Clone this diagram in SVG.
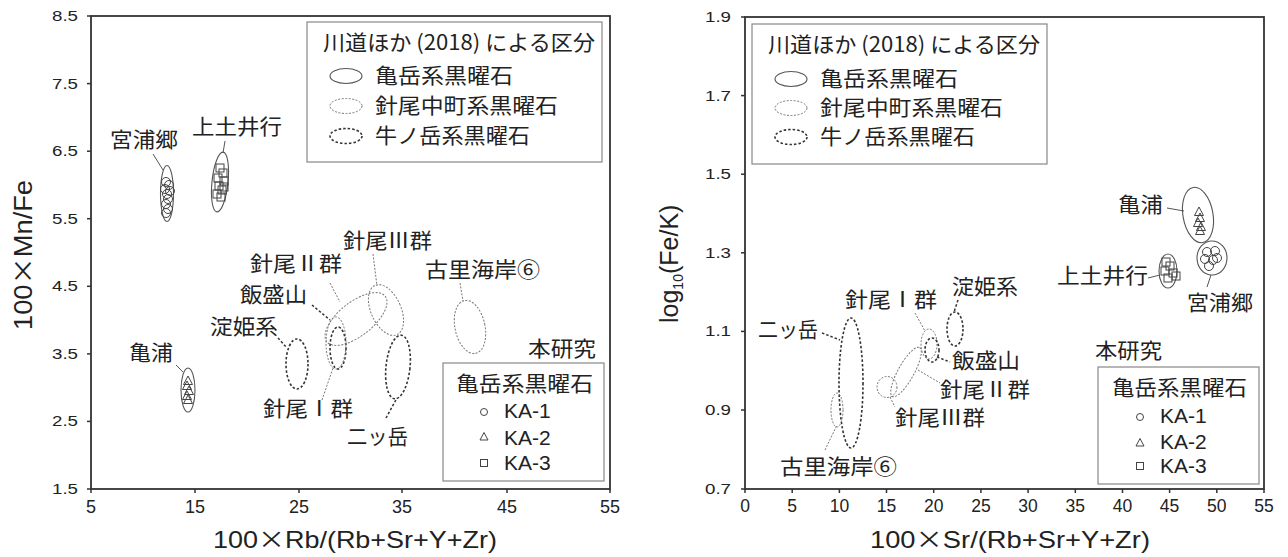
<svg xmlns="http://www.w3.org/2000/svg" width="1288" height="557" viewBox="0 0 1288 557">
<style>
.ax{fill:none;stroke:#333;stroke-width:1.8}
.tk{stroke:#333;stroke-width:1.5}
.lg{fill:#fff;stroke:#888;stroke-width:1.2}
.ka{fill:none;stroke:#555;stroke-width:1.1}
.hn{fill:none;stroke:#777;stroke-width:1;stroke-dasharray:2 1.5}
.us{fill:none;stroke:#333;stroke-width:1.6;stroke-dasharray:2.5 2}
.ld{stroke:#555;stroke-width:1;fill:none}
.ldh{stroke:#777;stroke-width:1;stroke-dasharray:2 1.5;fill:none}
.ldu{stroke:#333;stroke-width:1.5;stroke-dasharray:2.5 2;fill:none}
.pt{fill:none;stroke:#444;stroke-width:1}
.j{font-family:"Noto Sans CJK JP","Noto Sans CJK SC",sans-serif;fill:#222;font-size:21px}
.n{font-family:"Liberation Sans",Arial,sans-serif;fill:#222}
.yt{font-size:14px;text-anchor:end}
.xt{font-size:18px;text-anchor:middle}
.cx{font-family:"Noto Sans CJK JP",sans-serif}
</style>
<defs>
<circle id="c" r="4.5" class="pt"/>
<path id="t" d="M0,-5 L4.5,3.5 L-4.5,3.5 Z" class="pt"/>
<rect id="s" x="-4" y="-4" width="8" height="8" class="pt"/>
</defs>
<rect width="1288" height="557" fill="#fff"/>

<!-- LEFT PLOT -->
<g id="L-axes">
<rect class="ax" x="91" y="16" width="519" height="473"/>
<g class="tk">
<line x1="87" y1="16" x2="91" y2="16"/><line x1="87" y1="83.6" x2="91" y2="83.6"/><line x1="87" y1="151.2" x2="91" y2="151.2"/><line x1="87" y1="218.7" x2="91" y2="218.7"/><line x1="87" y1="286.3" x2="91" y2="286.3"/><line x1="87" y1="353.9" x2="91" y2="353.9"/><line x1="87" y1="421.4" x2="91" y2="421.4"/><line x1="87" y1="489" x2="91" y2="489"/>
<line x1="91" y1="489" x2="91" y2="493"/><line x1="195" y1="489" x2="195" y2="493"/><line x1="299" y1="489" x2="299" y2="493"/><line x1="402" y1="489" x2="402" y2="493"/><line x1="507" y1="489" x2="507" y2="493"/><line x1="610" y1="489" x2="610" y2="493"/>
</g>
<g class="n yt">
<text x="78" y="21" textLength="26" lengthAdjust="spacingAndGlyphs">8.5</text>
<text x="78" y="88.6" textLength="26" lengthAdjust="spacingAndGlyphs">7.5</text>
<text x="78" y="156.2" textLength="26" lengthAdjust="spacingAndGlyphs">6.5</text>
<text x="78" y="223.7" textLength="26" lengthAdjust="spacingAndGlyphs">5.5</text>
<text x="78" y="291.3" textLength="26" lengthAdjust="spacingAndGlyphs">4.5</text>
<text x="78" y="358.9" textLength="26" lengthAdjust="spacingAndGlyphs">3.5</text>
<text x="78" y="426.4" textLength="26" lengthAdjust="spacingAndGlyphs">2.5</text>
<text x="78" y="494" textLength="26" lengthAdjust="spacingAndGlyphs">1.5</text>
</g>
<g class="n xt">
<text x="91" y="513">5</text><text x="195" y="513">15</text><text x="299" y="513">25</text><text x="402" y="513">35</text><text x="507" y="513">45</text><text x="610" y="513">55</text>
</g>
<text class="n" x="213" y="548" font-size="24" textLength="284" lengthAdjust="spacingAndGlyphs">100<tspan class="cx">×</tspan>Rb/(Rb+Sr+Y+Zr)</text>
<text class="n" transform="translate(32,255) rotate(-90)" x="-75" y="0" font-size="25" textLength="150" lengthAdjust="spacingAndGlyphs">100<tspan class="cx">×</tspan>Mn/Fe</text>
</g>

<g id="L-legend">
<rect class="lg" x="307" y="22" width="295" height="140"/>
<text class="j" x="323" y="50" font-size="19" textLength="272" lengthAdjust="spacingAndGlyphs">川道ほか (2018) による区分</text>
<ellipse class="ka" cx="346" cy="76" rx="16" ry="7.5"/>
<text class="j" x="375" y="83" textLength="138" lengthAdjust="spacingAndGlyphs">亀岳系黒曜石</text>
<ellipse class="hn" cx="346" cy="106" rx="16" ry="7.5"/>
<text class="j" x="375" y="113" textLength="183" lengthAdjust="spacingAndGlyphs">針尾中町系黒曜石</text>
<ellipse class="us" cx="346" cy="136" rx="16" ry="7.5" stroke-width="1.2"/>
<text class="j" x="375" y="143" textLength="155" lengthAdjust="spacingAndGlyphs">牛ノ岳系黒曜石</text>
</g>

<g id="L-samplelegend">
<text class="j" x="528" y="356" textLength="68" lengthAdjust="spacingAndGlyphs">本研究</text>
<rect class="lg" x="443" y="363" width="161" height="118"/>
<text class="j" x="456" y="391" textLength="137" lengthAdjust="spacingAndGlyphs">亀岳系黒曜石</text>
<circle class="pt" cx="484" cy="412" r="3.5"/>
<text class="n" x="504" y="418" font-size="21">KA-1</text>
<path class="pt" d="M484,432.5 L488,440 L480,440 Z"/>
<text class="n" x="504" y="445" font-size="21">KA-2</text>
<rect class="pt" x="480.5" y="459.5" width="7" height="7"/>
<text class="n" x="504" y="470" font-size="21">KA-3</text>
</g>

<g id="L-leaders">
<line class="ld" x1="153" y1="154" x2="163" y2="170"/>
<line class="ld" x1="225" y1="141" x2="223" y2="153"/>
<line class="ld" x1="176" y1="365" x2="183" y2="372"/>
<line class="ldu" x1="278" y1="338" x2="287" y2="348"/>
<line class="ldu" x1="312" y1="305" x2="330" y2="320"/>
<line class="ldh" x1="330" y1="283" x2="340" y2="302"/>
<line class="ldh" x1="373" y1="254" x2="377" y2="286"/>
<line class="ldh" x1="322" y1="400" x2="333" y2="368"/>
<line class="ldu" x1="386" y1="418" x2="397" y2="398"/>
<line class="ldh" x1="460" y1="283" x2="463" y2="301"/>
</g>

<g id="L-miyaura">
<text class="j" x="110" y="146.5" font-size="22" textLength="68" lengthAdjust="spacingAndGlyphs">宮浦郷</text>
<ellipse class="ka" cx="167" cy="193.5" rx="6.5" ry="28"/>
<use href="#c" x="166" y="182"/><use href="#c" x="169" y="185"/><use href="#c" x="165" y="189"/><use href="#c" x="170" y="191"/><use href="#c" x="167" y="194"/><use href="#c" x="168" y="199"/><use href="#c" x="166" y="204"/><use href="#c" x="168" y="209"/><use href="#c" x="166" y="213"/>
</g>
<g id="L-kamidoi">
<text class="j" x="192" y="133.5" font-size="22" textLength="90" lengthAdjust="spacingAndGlyphs">上土井行</text>
<ellipse class="ka" cx="220" cy="182" rx="8" ry="30" transform="rotate(6 220 182)"/>
<use href="#s" x="220" y="168"/><use href="#s" x="223" y="173"/><use href="#s" x="218" y="178"/><use href="#s" x="224" y="181"/><use href="#s" x="219" y="186"/><use href="#s" x="222" y="190"/><use href="#s" x="217" y="194"/><use href="#s" x="221" y="197"/><use href="#s" x="224" y="187"/>
</g>
<g id="L-kameura">
<text class="j" x="129" y="360" font-size="22" textLength="44" lengthAdjust="spacingAndGlyphs">亀浦</text>
<ellipse class="ka" cx="188" cy="390" rx="7" ry="22"/>
<use href="#t" x="188" y="381"/><use href="#t" x="187" y="386"/><use href="#t" x="189" y="391"/><use href="#t" x="187" y="396"/><use href="#t" x="188" y="400"/>
</g>
<g id="L-yodohime">
<text class="j" x="210" y="334" textLength="68" lengthAdjust="spacingAndGlyphs">淀姫系</text>
<ellipse class="us" cx="297" cy="364" rx="11" ry="25"/>
</g>
<g id="L-iimori">
<text class="j" x="240" y="302" textLength="67" lengthAdjust="spacingAndGlyphs">飯盛山</text>
<ellipse class="us" cx="338" cy="348" rx="8" ry="21"/>
</g>
<g id="L-hario1">
<text class="j" x="263" y="416" textLength="90" lengthAdjust="spacingAndGlyphs">針尾Ⅰ群</text>
<ellipse class="hn" cx="336" cy="343" rx="10" ry="26"/>
</g>
<g id="L-hario2">
<text class="j" x="250" y="271" textLength="92" lengthAdjust="spacingAndGlyphs">針尾Ⅱ群</text>
<ellipse class="hn" cx="356" cy="319" rx="37" ry="17" transform="rotate(-38 356 319)"/>
</g>
<g id="L-hario3">
<text class="j" x="343" y="248" textLength="89" lengthAdjust="spacingAndGlyphs">針尾Ⅲ群</text>
<ellipse class="hn" cx="386" cy="310" rx="15" ry="27" transform="rotate(-24 386 310)"/>
</g>
<g id="L-futatsu">
<text class="j" x="347" y="444" textLength="61" lengthAdjust="spacingAndGlyphs">二ッ岳</text>
<ellipse class="us" cx="398" cy="367" rx="12" ry="32" transform="rotate(6 398 367)"/>
</g>
<g id="L-furusato">
<text class="j" x="425" y="277" textLength="115" lengthAdjust="spacingAndGlyphs">古里海岸⑥</text>
<ellipse class="hn" cx="470" cy="327" rx="15" ry="27" transform="rotate(-12 470 327)"/>
</g>

<!-- RIGHT PLOT -->
<g id="R-axes">
<rect class="ax" x="745" y="17" width="519" height="472"/>
<g class="tk">
<line x1="741" y1="17" x2="745" y2="17"/><line x1="741" y1="95.6" x2="745" y2="95.6"/><line x1="741" y1="174.2" x2="745" y2="174.2"/><line x1="741" y1="252.8" x2="745" y2="252.8"/><line x1="741" y1="331.4" x2="745" y2="331.4"/><line x1="741" y1="410" x2="745" y2="410"/><line x1="741" y1="489" x2="745" y2="489"/>
<line x1="745" y1="489" x2="745" y2="493"/><line x1="792.2" y1="489" x2="792.2" y2="493"/><line x1="839.4" y1="489" x2="839.4" y2="493"/><line x1="886.5" y1="489" x2="886.5" y2="493"/><line x1="933.7" y1="489" x2="933.7" y2="493"/><line x1="980.9" y1="489" x2="980.9" y2="493"/><line x1="1028.1" y1="489" x2="1028.1" y2="493"/><line x1="1075.3" y1="489" x2="1075.3" y2="493"/><line x1="1122.5" y1="489" x2="1122.5" y2="493"/><line x1="1169.6" y1="489" x2="1169.6" y2="493"/><line x1="1216.8" y1="489" x2="1216.8" y2="493"/><line x1="1264" y1="489" x2="1264" y2="493"/>
</g>
<g class="n yt">
<text x="731" y="22" textLength="26" lengthAdjust="spacingAndGlyphs" font-size="14.5">1.9</text>
<text x="731" y="100.6" textLength="26" lengthAdjust="spacingAndGlyphs" font-size="14.5">1.7</text>
<text x="731" y="179.2" textLength="26" lengthAdjust="spacingAndGlyphs" font-size="14.5">1.5</text>
<text x="731" y="257.8" textLength="26" lengthAdjust="spacingAndGlyphs" font-size="14.5">1.3</text>
<text x="731" y="336.4" textLength="26" lengthAdjust="spacingAndGlyphs" font-size="14.5">1.1</text>
<text x="731" y="415" textLength="26" lengthAdjust="spacingAndGlyphs" font-size="14.5">0.9</text>
<text x="731" y="494" textLength="26" lengthAdjust="spacingAndGlyphs" font-size="14.5">0.7</text>
</g>
<g class="n xt">
<text x="745" y="512" font-size="17.5">0</text><text x="792.2" y="512" font-size="17.5">5</text><text x="839.4" y="512" font-size="17.5">10</text><text x="886.5" y="512" font-size="17.5">15</text><text x="933.7" y="512" font-size="17.5">20</text><text x="980.9" y="512" font-size="17.5">25</text><text x="1028.1" y="512" font-size="17.5">30</text><text x="1075.3" y="512" font-size="17.5">35</text><text x="1122.5" y="512" font-size="17.5">40</text><text x="1169.6" y="512" font-size="17.5">45</text><text x="1216.8" y="512" font-size="17.5">50</text><text x="1264" y="512" font-size="17.5">55</text>
</g>
<text class="n" x="870" y="548" font-size="24" textLength="280" lengthAdjust="spacingAndGlyphs">100<tspan class="cx">×</tspan>Sr/(Rb+Sr+Y+Zr)</text>
<text class="n" transform="translate(678,260) rotate(-90)" x="-63" y="0" font-size="25">log<tspan font-size="14" dy="5">10</tspan><tspan dy="-5">(Fe/K)</tspan></text>
</g>

<g id="R-legend" transform="translate(445,2)">
<rect class="lg" x="307" y="22" width="295" height="140"/>
<text class="j" x="323" y="50" font-size="19" textLength="272" lengthAdjust="spacingAndGlyphs">川道ほか (2018) による区分</text>
<ellipse class="ka" cx="346" cy="77" rx="16" ry="7.5"/>
<text class="j" x="375" y="84" textLength="138" lengthAdjust="spacingAndGlyphs">亀岳系黒曜石</text>
<ellipse class="hn" cx="346" cy="106" rx="16" ry="7.5"/>
<text class="j" x="375" y="113" textLength="183" lengthAdjust="spacingAndGlyphs">針尾中町系黒曜石</text>
<ellipse class="us" cx="346" cy="135" rx="16" ry="7.5" stroke-width="1.2"/>
<text class="j" x="375" y="142" textLength="155" lengthAdjust="spacingAndGlyphs">牛ノ岳系黒曜石</text>
</g>

<g id="R-samplelegend">
<text class="j" x="1095" y="358" textLength="67" lengthAdjust="spacingAndGlyphs">本研究</text>
<rect class="lg" x="1098" y="367" width="161" height="117"/>
<text class="j" x="1112" y="395" textLength="135" lengthAdjust="spacingAndGlyphs">亀岳系黒曜石</text>
<circle class="pt" cx="1140" cy="417" r="3.5"/>
<text class="n" x="1160" y="423" font-size="21">KA-1</text>
<path class="pt" d="M1140,438.5 L1144,446 L1136,446 Z"/>
<text class="n" x="1160" y="449" font-size="21">KA-2</text>
<rect class="pt" x="1136.5" y="462.5" width="7" height="7"/>
<text class="n" x="1160" y="473" font-size="21">KA-3</text>
</g>

<g id="R-leaders">
<line class="ld" x1="1167" y1="208" x2="1184" y2="211"/>
<line class="ld" x1="1148" y1="278" x2="1160" y2="275"/>
<line class="ld" x1="1207" y1="287" x2="1211" y2="275"/>
<line class="ldu" x1="958" y1="300" x2="954" y2="312"/>
<line class="ldh" x1="915" y1="313" x2="925" y2="331"/>
<line class="ldu" x1="937" y1="357" x2="950" y2="362"/>
<line class="ldh" x1="918" y1="370" x2="940" y2="383"/>
<line class="ldh" x1="890" y1="397" x2="895" y2="407"/>
<line class="ldu" x1="822" y1="333" x2="840" y2="340"/>
<line class="ldh" x1="825" y1="450" x2="837" y2="425"/>
</g>

<g id="R-kameura">
<text class="j" x="1118" y="212" textLength="45" lengthAdjust="spacingAndGlyphs">亀浦</text>
<ellipse class="ka" cx="1198" cy="215" rx="15" ry="28" transform="rotate(-10 1198 215)"/>
<use href="#t" x="1199" y="212"/><use href="#t" x="1200" y="218"/><use href="#t" x="1198" y="223"/><use href="#t" x="1201" y="227"/><use href="#t" x="1200" y="231"/>
</g>
<g id="R-miyaura">
<text class="j" x="1187" y="310" textLength="66" lengthAdjust="spacingAndGlyphs">宮浦郷</text>
<ellipse class="ka" cx="1212" cy="258" rx="15" ry="17"/>
<use href="#c" x="1207" y="252"/><use href="#c" x="1215" y="251"/><use href="#c" x="1205" y="259"/><use href="#c" x="1213" y="260"/><use href="#c" x="1209" y="266"/><use href="#c" x="1217" y="258"/>
</g>
<g id="R-kamidoi">
<text class="j" x="1057" y="283" textLength="91" lengthAdjust="spacingAndGlyphs">上土井行</text>
<ellipse class="ka" cx="1168" cy="271" rx="9" ry="17"/>
<use href="#s" x="1166" y="262"/><use href="#s" x="1170" y="266"/><use href="#s" x="1165" y="271"/><use href="#s" x="1173" y="273"/><use href="#s" x="1168" y="278"/><use href="#s" x="1176" y="276"/>
</g>
<g id="R-yodohime">
<text class="j" x="952" y="294" textLength="66" lengthAdjust="spacingAndGlyphs">淀姫系</text>
<ellipse class="us" cx="955" cy="329" rx="8" ry="17"/>
</g>
<g id="R-hario1">
<text class="j" x="845" y="307" textLength="92" lengthAdjust="spacingAndGlyphs">針尾Ⅰ群</text>
<ellipse class="hn" cx="929" cy="344" rx="8" ry="15"/>
</g>
<g id="R-iimori">
<text class="j" x="952" y="368" textLength="68" lengthAdjust="spacingAndGlyphs">飯盛山</text>
<ellipse class="us" cx="932" cy="350" rx="7" ry="12"/>
</g>
<g id="R-hario2">
<text class="j" x="940" y="397" textLength="90" lengthAdjust="spacingAndGlyphs">針尾Ⅱ群</text>
<ellipse class="hn" cx="906" cy="372" rx="28" ry="8" transform="rotate(-61 906 372)"/>
</g>
<g id="R-hario3">
<text class="j" x="895" y="425" textLength="90" lengthAdjust="spacingAndGlyphs">針尾Ⅲ群</text>
<ellipse class="hn" cx="887" cy="387" rx="10" ry="10.5"/>
</g>
<g id="R-futatsu">
<text class="j" x="758" y="337" textLength="60" lengthAdjust="spacingAndGlyphs">二ッ岳</text>
<ellipse class="us" cx="851" cy="383" rx="12" ry="65"/>
</g>
<g id="R-furusato">
<text class="j" x="780" y="474" textLength="117" lengthAdjust="spacingAndGlyphs">古里海岸⑥</text>
<ellipse class="hn" cx="837" cy="410" rx="6" ry="17"/>
</g>
</svg>
